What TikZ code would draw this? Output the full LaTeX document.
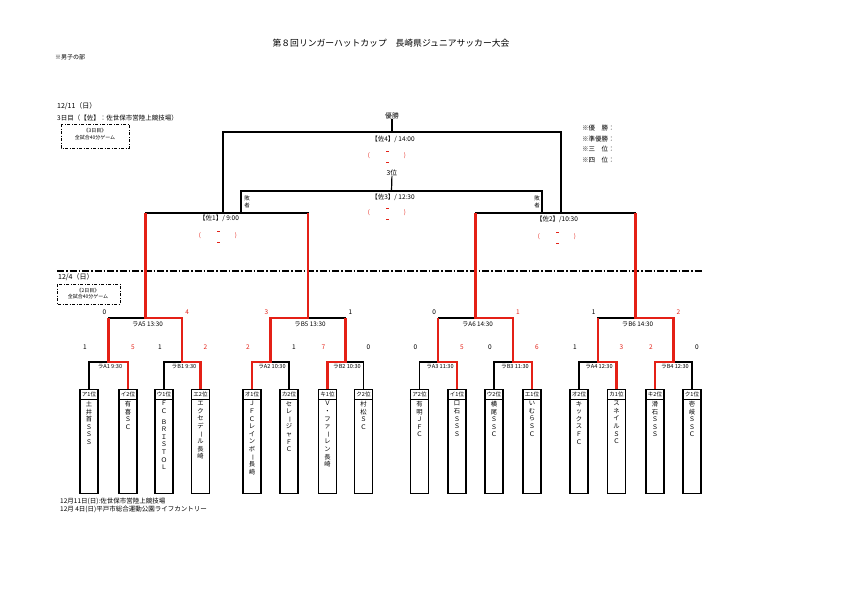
\documentclass[tikz,border=0pt]{standalone}
\usepackage{fontspec}
\setmainfont{Noto Sans CJK JP}
\usepackage{graphicx}
\usetikzlibrary{calc}
\definecolor{wred}{RGB}{228,32,22}
\newcommand\chou{\rotatebox[origin=c]{-90}{ー}}
\begin{document}
\begin{tikzpicture}[x=1pt,y=-1pt,
  txt/.style={inner sep=0pt, font=\fontsize{6.5}{7.5}\selectfont},
  small/.style={inner sep=0pt, font=\fontsize{5}{6}\selectfont},
  lbl/.style={inner sep=0pt, font=\fontsize{5.6}{6.5}\selectfont},
  lbltwo/.style={inner sep=0pt, font=\fontsize{6.3}{7}\selectfont},
  score/.style={inner sep=0pt, font=\fontsize{6.5}{7}\selectfont},
  rscore/.style={score, text=wred},
  paren/.style={inner sep=0pt, text=wred, font=\fontsize{6}{6}\selectfont},
  dashmark/.style={fill=wred, inner sep=0pt, minimum width=3pt, minimum height=0.6pt},
  bk/.style={line width=1.2pt, black},
  win/.style={line width=2.4pt, wred},
  teambox/.style={draw, line width=1.4pt, minimum width=18pt, minimum height=104pt, anchor=north, inner sep=0pt},
  boxline/.style={line width=0.9pt},
  hdr/.style={inner sep=0pt, font=\fontsize{5.6}{6}\selectfont},
  vname/.style={inner sep=0pt, anchor=north, align=center, font=\fontsize{6.3}{7.6}\selectfont},
  sep/.style={line width=1.5pt, dash pattern=on 7pt off 2pt on 1.5pt off 2pt},
  dbox/.style={line width=0.8pt, dash pattern=on 3pt off 1.5pt on 1pt off 1.5pt}
]
\useasboundingbox (0,0) rectangle (842,595);

% ---------- headings ----------
\node[inner sep=0pt, font=\fontsize{8.8}{10}\selectfont] (title) at (391,43) {第８回リンガーハットカップ　長崎県ジュニアサッカー大会};
\node[txt, anchor=west, font=\fontsize{6}{7}\selectfont] (boys) at (55,57) {※男子の部};

\node[txt, anchor=west, font=\fontsize{7}{8}\selectfont] (d3) at (57,106) {12/11（日）};
\node[txt, anchor=west] (d3v) at (57,118) {3日目（【佐】：佐世保市営陸上競技場）};
\draw[dbox] (61,124) rectangle (129,148);
\node[small] (b3a) at (95,131) {《3日目》};
\node[small] (b3b) at (95,138) {全試合40分ゲーム};

\node[txt, anchor=west] (lg1) at (582,128) {※優　勝：};
\node[txt, anchor=west] (lg2) at (582,139) {※準優勝：};
\node[txt, anchor=west] (lg3) at (582,149) {※三　位：};
\node[txt, anchor=west] (lg4) at (582,160) {※四　位：};

\draw[sep] (57,271) -- (703,271);
\node[txt, anchor=west, font=\fontsize{7}{8}\selectfont] (d2) at (58,277) {12/4（日）};
\draw[dbox] (57,284) rectangle (120,304);
\node[small] (b2a) at (88,291) {《2日目》};
\node[small] (b2b) at (88,297) {全試合40分ゲーム};

\node[txt, anchor=west] (ft1) at (60,501) {12月11日(日):佐世保市営陸上競技場};
\node[txt, anchor=west] (ft2) at (60,509) {12月 4日(日)平戸市総合運動公園ライフカントリー};

% ---------- coordinates ----------
\coordinate (m1) at (108.5,362);  \coordinate (m2) at (182.25,362);
\coordinate (m3) at (270.5,362);  \coordinate (m4) at (345.5,362);
\coordinate (m5) at (438.25,362); \coordinate (m6) at (513,362);
\coordinate (m7) at (597.75,362); \coordinate (m8) at (673.5,362);
\coordinate (r1) at (145.4,318);  \coordinate (r2) at (308,318);
\coordinate (r3) at (475.6,318);  \coordinate (r4) at (635.6,318);
\coordinate (s1) at (223,213);    \coordinate (s2) at (561,213);
\coordinate (q1) at (241,213);    \coordinate (q2) at (542,213);
\coordinate (fin) at (392,132);   \coordinate (thd) at (391.5,191);

% ---------- team boxes (nodes) ----------
\newcommand\mkteam[4]{%
  \node[teambox] (t#1) at (#2,389) {};
  \draw[boxline] ([yshift=-10pt]t#1.north west) -- ([yshift=-10pt]t#1.north east);
  \node[hdr] (h#1) at ([yshift=-5pt]t#1.north) {#3};
  \node[vname] (n#1) at ([yshift=-12pt]t#1.north) {#4};
}
\mkteam{1}{89}{ア1位}{土\\井\\首\\Ｓ\\Ｓ\\Ｓ}
\mkteam{2}{128}{イ2位}{有\\喜\\Ｓ\\Ｃ}
\mkteam{3}{164}{ウ1位}{Ｆ\\Ｃ\\[3pt]Ｂ\\Ｒ\\Ｉ\\Ｓ\\Ｔ\\Ｏ\\Ｌ}
\mkteam{4}{200.5}{エ2位}{エ\\ク\\セ\\デ\\\chou\\ル\\長\\崎}
\mkteam{5}{252}{オ1位}{Ｊ\\Ｆ\\Ｃ\\レ\\イ\\ン\\ボ\\\chou\\長\\崎}
\mkteam{6}{289}{カ2位}{セ\\レ\\\chou\\ジ\\ャ\\Ｆ\\Ｃ}
\mkteam{7}{327.5}{キ1位}{Ｖ\\・\\フ\\ァ\\\chou\\レ\\ン\\長\\崎}
\mkteam{8}{363.5}{ク2位}{村\\松\\Ｓ\\Ｃ}
\mkteam{9}{419.5}{ア2位}{有\\明\\Ｊ\\Ｆ\\Ｃ}
\mkteam{10}{457}{イ1位}{口\\石\\Ｓ\\Ｓ\\Ｓ}
\mkteam{11}{494}{ウ2位}{横\\尾\\Ｓ\\Ｓ\\Ｃ}
\mkteam{12}{532}{エ1位}{い\\む\\ら\\Ｓ\\Ｃ}
\mkteam{13}{579}{オ2位}{キ\\ッ\\ク\\ス\\Ｆ\\Ｃ}
\mkteam{14}{616.5}{カ1位}{ス\\ネ\\イ\\ル\\Ｓ\\Ｃ}
\mkteam{15}{655}{キ2位}{滑\\石\\Ｓ\\Ｓ\\Ｓ}
\mkteam{16}{692}{ク1位}{壱\\岐\\Ｓ\\Ｓ\\Ｃ}

% ---------- black bracket ----------
\foreach \k/\a/\b in {1/1/2,2/3/4,3/5/6,4/7/8,5/9/10,6/11/12,7/13/14,8/15/16}{
  \draw[bk] (t\a.north) |- (m\k) -| (t\b.north);
}
\draw[bk] (m1) |- (r1) -| (m2);
\draw[bk] (m3) |- (r2) -| (m4);
\draw[bk] (m5) |- (r3) -| (m6);
\draw[bk] (m7) |- (r4) -| (m8);
\draw[bk] (r1) |- (s1) -| (r2);
\draw[bk] (r3) |- (s2) -| (r4);
\draw[bk] (s1) |- (fin) -| (s2);
\draw[bk] (q1) |- (thd) -| (q2);
\node[txt, font=\fontsize{6.8}{7.5}\selectfont] (champ) at (392,116) {優勝};
\node[txt, font=\fontsize{6.8}{7.5}\selectfont] (third) at (392,173) {3位};
\draw[bk] (fin) -- (champ);
\draw[bk] (thd) -- (third);

% ---------- winner paths ----------
\draw[win] (t2.north) |- (m1) -- (m1 |- r1);
\draw[win] (t4.north) |- (m2) -- (m2 |- r1);
\draw[win] (t5.north) |- (m3) -- (m3 |- r2);
\draw[win] (t7.north) |- (m4) -- (m4 |- r2);
\draw[win] (t10.north) |- (m5) -- (m5 |- r3);
\draw[win] (t12.north) |- (m6) -- (m6 |- r3);
\draw[win] (t14.north) |- (m7) -- (m7 |- r4);
\draw[win] (t15.north) |- (m8) -- (m8 |- r4);
\draw[win] (m2) |- (r1) -- (r1 |- s1);
\draw[win] (m3) |- (r2) -- (r2 |- s1);
\draw[win] (m6) |- (r3) -- (r3 |- s2);
\draw[win] (m8) |- (r4) -- (r4 |- s2);

% ---------- match labels ----------
\node[lbl] (la1) at (110,367) {ラA1 9:30};
\node[lbl] (lb1) at (184,367) {ラB1 9:30};
\node[lbl] (la2) at (272,367) {ラA2 10:30};
\node[lbl] (lb2) at (347,367) {ラB2 10:30};
\node[lbl] (la3) at (440,367) {ラA3 11:30};
\node[lbl] (lb3) at (515,367) {ラB3 11:30};
\node[lbl] (la4) at (599,367) {ラA4 12:30};
\node[lbl] (lb4) at (675,367) {ラB4 12:30};
\node[lbltwo] (la5) at (147.5,324) {ラA5 13:30};
\node[lbltwo] (lb5) at (310,324) {ラB5 13:30};
\node[lbltwo] (la6) at (477.5,324) {ラA6 14:30};
\node[lbltwo] (lb6) at (637.5,324) {ラB6 14:30};

\node[txt, anchor=west] (sf1) at (199,218) {【佐1】/ 9:00};
\node[txt] (sf2) at (557,219) {【佐2】/10:30};
\node[txt] (p3) at (393,197) {【佐3】/ 12:30};
\node[txt] (p4) at (393,139) {【佐4】/ 14:00};

% ---------- red result placeholders ----------
\foreach \cx/\cy [count=\i] in {387/156, 387/213, 218/236, 557/237}{
  \node[paren] (po\i) at (\cx-18,\cy) {(};
  \node[paren] (pc\i) at (\cx+18,\cy) {)};
  \node[dashmark] (pu\i) at (\cx,\cy-5) {};
  \node[dashmark] (pd\i) at (\cx,\cy+6) {};
}

% ---------- loser labels ----------
\node[inner sep=0pt, align=center, font=\fontsize{5.5}{7}\selectfont] (ls1) at (247,202) {敗\\者};
\node[inner sep=0pt, align=center, font=\fontsize{5.5}{7}\selectfont] (ls2) at (537,202) {敗\\者};

% ---------- scores ----------
\node[score] at (85,347) {1};    \node[rscore] at (133,347) {5};
\node[score] at (160,347) {1};   \node[rscore] at (205.5,347) {2};
\node[rscore] at (248,347) {2};  \node[score] at (294,347) {1};
\node[rscore] at (323.5,347) {7}; \node[score] at (368.5,347) {0};
\node[score] at (415.5,347) {0}; \node[rscore] at (462,347) {5};
\node[score] at (490,347) {0};   \node[rscore] at (537,347) {6};
\node[score] at (575,347) {1};   \node[rscore] at (621.5,347) {3};
\node[rscore] at (651,347) {2};  \node[score] at (697,347) {0};
\node[score] at (104.5,312) {0}; \node[rscore] at (187.25,312) {4};
\node[rscore] at (266.5,312) {3}; \node[score] at (350.5,312) {1};
\node[score] at (434.25,312) {0}; \node[rscore] at (518,312) {1};
\node[score] at (593.75,312) {1}; \node[rscore] at (678.5,312) {2};
\end{tikzpicture}
\end{document}
